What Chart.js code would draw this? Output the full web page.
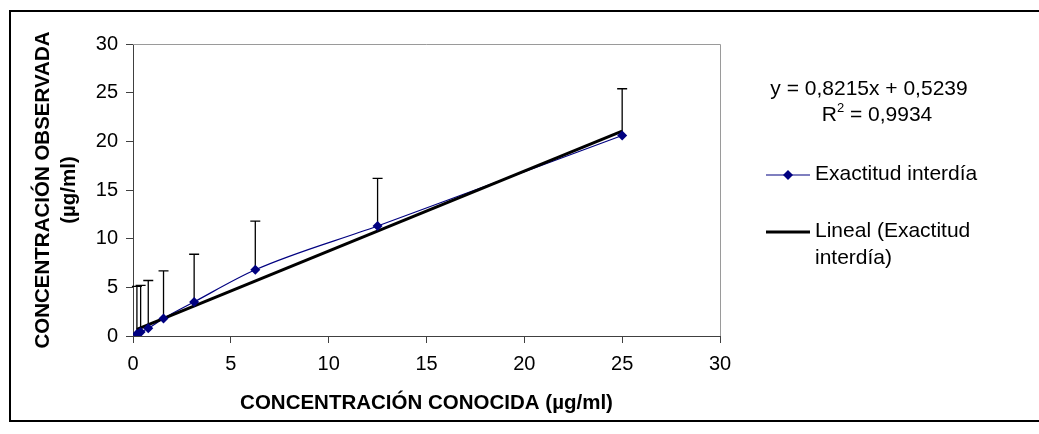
<!DOCTYPE html>
<html>
<head>
<meta charset="utf-8">
<script src="https://cdn.jsdelivr.net/npm/chart.js@4.4.1/dist/chart.umd.min.js"></script>
<style>
  html, body { margin: 0; padding: 0; background: #fff; }
  #wrap { width: 1039px; height: 434px; }
</style>
</head>
<body>
<div id="wrap"><canvas id="chart" width="1039" height="434"></canvas></div>
<script>
// datos (µg/ml)
const concConocida = [0.2, 0.39, 0.78, 1.56, 3.125, 6.25, 12.5, 25];
const concObservada = [0.2, 0.4, 0.8, 1.8, 3.5, 6.8, 11.3, 20.6];
const errorSuperior = [4.9, 4.8, 4.9, 4.9, 4.9, 5.0, 4.9, 4.8];

// línea de tendencia (extremos)
const tendenciaX = [0.2, 25];
const tendenciaY = [0.69, 21.06];

const ticksX = [0, 5, 10, 15, 20, 25, 30];
const ticksY = [0, 5, 10, 15, 20, 25, 30];

const ecuacion = 'y = 0,8215x + 0,5239';
const r2 = ['R', '2', ' = 0,9934'];
const nombreSerie = 'Exactitud interdía';
const nombreTendencia = ['Lineal (Exactitud', 'interdía)'];

const FONT = "'Liberation Sans', Arial, sans-serif";
const AZUL = '#000080';
const EJE = '#404040';

const toPts = (xs, ys) => xs.map((x, i) => ({ x: x, y: ys[i] }));

/**
 * Barras de error (solo hacia arriba), marco y leyenda manual
 */
const extrasPlugin = {
    id: 'extras',
    beforeDatasetsDraw(chart) {
        const { ctx, scales: { x, y } } = chart;
        ctx.save();
        ctx.strokeStyle = '#000';
        ctx.lineWidth = 1.3;
        concConocida.forEach((cx, i) => {
            const px = x.getPixelForValue(cx);
            const p0 = y.getPixelForValue(concObservada[i]);
            const p1 = y.getPixelForValue(concObservada[i] + errorSuperior[i]);
            ctx.beginPath();
            ctx.moveTo(px, p0);
            ctx.lineTo(px, p1);
            ctx.moveTo(px - 5, p1);
            ctx.lineTo(px + 5, p1);
            ctx.stroke();
        });
        ctx.restore();
    },
    afterDraw(chart) {
        const { ctx, chartArea: a } = chart;
        ctx.save();
        // borde gris del área de trazado (arriba y derecha)
        ctx.strokeStyle = '#9a9a9a';
        ctx.lineWidth = 1;
        ctx.beginPath();
        ctx.moveTo(a.left, a.top + 0.5);
        ctx.lineTo(a.right + 0.5, a.top + 0.5);
        ctx.lineTo(a.right + 0.5, a.bottom);
        ctx.stroke();

        // marco exterior
        ctx.strokeStyle = '#000';
        ctx.lineWidth = 2;
        ctx.beginPath();
        ctx.moveTo(1039, 11);
        ctx.lineTo(10, 11);
        ctx.lineTo(10, 421);
        ctx.lineTo(1039, 421);
        ctx.stroke();

        // ecuación de la tendencia
        ctx.fillStyle = '#000';
        ctx.font = '21px ' + FONT;
        ctx.textAlign = 'center';
        ctx.textBaseline = 'middle';
        ctx.fillText(ecuacion, 869, 89);

        // R² con superíndice
        ctx.textAlign = 'left';
        const wR = ctx.measureText(r2[0]).width;
        const wRest = ctx.measureText(r2[2]).width;
        ctx.font = '13px ' + FONT;
        const wSup = ctx.measureText(r2[1]).width;
        let xr = 877 - (wR + wSup + wRest) / 2;
        ctx.font = '21px ' + FONT;
        ctx.fillText(r2[0], xr, 115);
        ctx.font = '13px ' + FONT;
        ctx.fillText(r2[1], xr + wR, 108);
        ctx.font = '21px ' + FONT;
        ctx.fillText(r2[2], xr + wR + wSup, 115);

        // leyenda
        ctx.strokeStyle = AZUL;
        ctx.lineWidth = 1.2;
        ctx.beginPath();
        ctx.moveTo(766, 175);
        ctx.lineTo(810, 175);
        ctx.stroke();
        ctx.fillStyle = AZUL;
        ctx.beginPath();
        ctx.moveTo(788, 170);
        ctx.lineTo(793, 175);
        ctx.lineTo(788, 180);
        ctx.lineTo(783, 175);
        ctx.closePath();
        ctx.fill();
        ctx.fillStyle = '#000';
        ctx.fillText(nombreSerie, 815, 174);

        ctx.strokeStyle = '#000';
        ctx.lineWidth = 3;
        ctx.beginPath();
        ctx.moveTo(766, 232);
        ctx.lineTo(810, 232);
        ctx.stroke();
        ctx.fillText(nombreTendencia[0], 815, 231);
        ctx.fillText(nombreTendencia[1], 815, 258);
        ctx.restore();
    }
};

const ejeComun = {
    type: 'linear',
    min: 0,
    max: 30,
    grid: { drawOnChartArea: false, drawTicks: true, tickLength: 7, color: EJE },
    border: { display: true, color: EJE, width: 1 },
};

new Chart(document.getElementById('chart'), {
    type: 'scatter',
    data: {
        datasets: [
            {
                // línea suavizada sin marcadores
                type: 'line',
                data: toPts(concConocida, concObservada),
                borderColor: AZUL,
                borderWidth: 1.2,
                pointRadius: 0,
                cubicInterpolationMode: 'monotone',
                fill: false,
                order: 3
            },
            {
                type: 'line',
                data: toPts(tendenciaX, tendenciaY),
                borderColor: '#000',
                borderWidth: 3,
                pointRadius: 0,
                fill: false,
                order: 2
            },
            {
                type: 'scatter',
                data: toPts(concConocida, concObservada),
                pointStyle: 'rectRot',
                pointRadius: 5,
                backgroundColor: AZUL,
                borderColor: AZUL,
                borderWidth: 0,
                order: 1
            }
        ]
    },
    options: {
        responsive: false,
        animation: false,
        layout: { padding: { left: 24, right: 319, top: 44, bottom: 10 } },
        plugins: { legend: { display: false }, tooltip: { enabled: false } },
        scales: {
            x: {
                ...ejeComun,
                position: 'bottom',
                afterBuildTicks: (axis) => { axis.ticks = ticksX.map(v => ({ value: v })); },
                afterFit: (axis) => { axis.height = 434 - 336 - 10; },
                ticks: { color: '#000', font: { family: FONT, size: 20 }, padding: 9, maxRotation: 0 },
                title: {
                    display: true,
                    text: 'CONCENTRACIÓN CONOCIDA (µg/ml)',
                    color: '#000',
                    font: { family: FONT, size: 20.5, weight: 'bold' },
                    padding: { top: 0, bottom: 8 }
                }
            },
            y: {
                ...ejeComun,
                position: 'left',
                afterBuildTicks: (axis) => { axis.ticks = ticksY.map(v => ({ value: v })); },
                afterFit: (axis) => { axis.width = 133 - 24; },
                ticks: { color: '#000', font: { family: FONT, size: 20 }, padding: 8 },
                title: {
                    display: true,
                    text: ['CONCENTRACIÓN OBSERVADA', '(µg/ml)'],
                    color: '#000',
                    font: { family: FONT, size: 20.5, weight: 'bold', lineHeight: '26px' },
                    padding: { top: 6, bottom: 0 }
                }
            }
        }
    },
    plugins: [extrasPlugin]
});
</script>
</body>
</html>
